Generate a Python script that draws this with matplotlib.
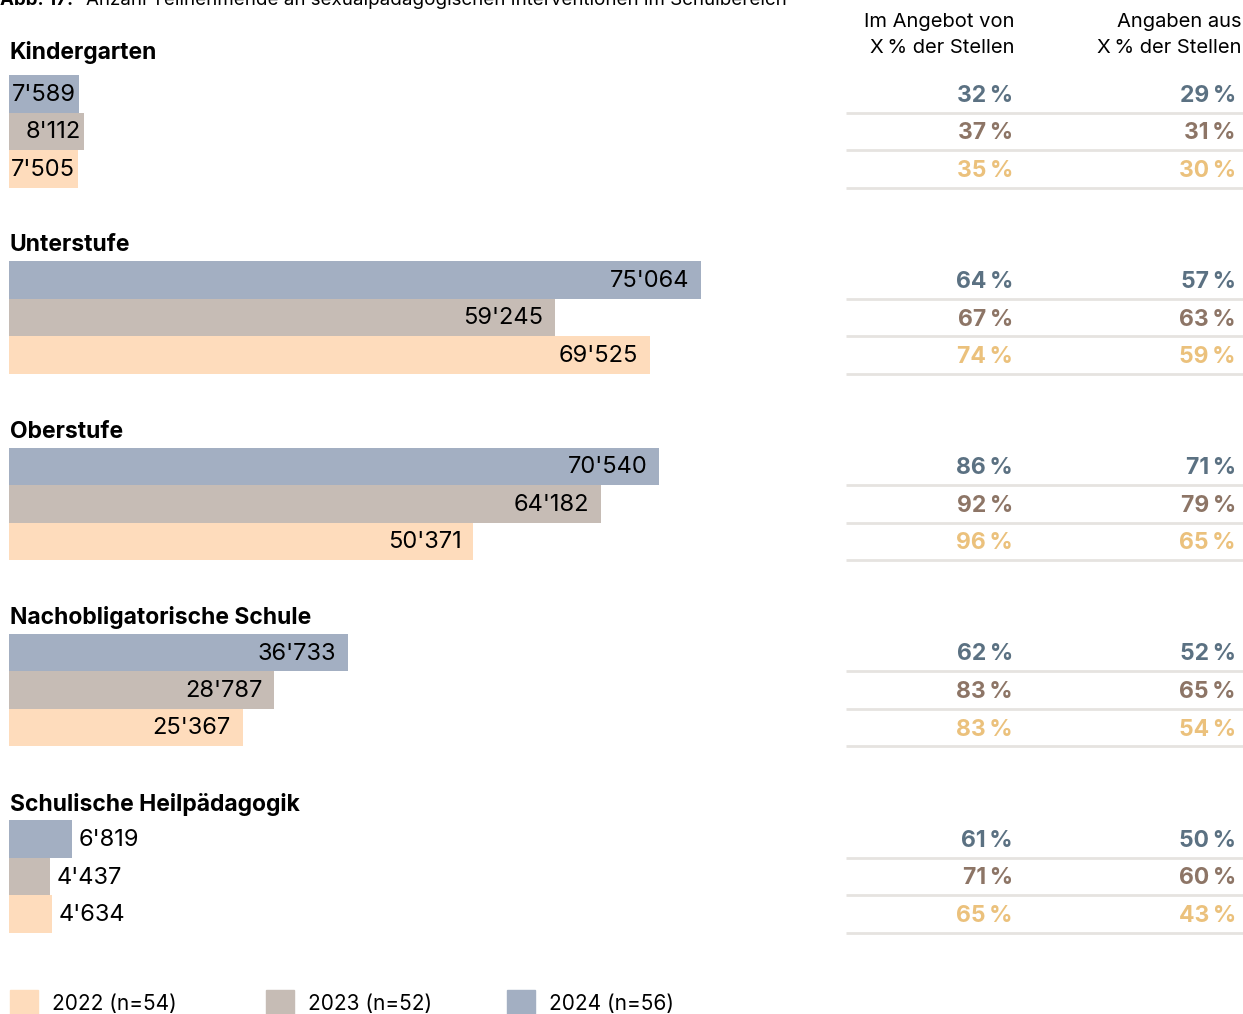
import matplotlib
matplotlib.use("Agg")
import matplotlib.pyplot as plt
from matplotlib.patches import Rectangle

# data, rows per group ordered 2024, 2023, 2022
groups = ["Kindergarten", "Unterstufe", "Oberstufe",
          "Nachobligatorische Schule", "Schulische Heilpädagogik"]
years = ["2024 (n=56)", "2023 (n=52)", "2022 (n=54)"]
participants = [
    [7589, 8112, 7505],
    [75064, 59245, 69525],
    [70540, 64182, 50371],
    [36733, 28787, 25367],
    [6819, 4437, 4634],
]
angebot = [
    [32, 37, 35],
    [64, 67, 74],
    [86, 92, 96],
    [62, 83, 83],
    [61, 71, 65],
]
angaben = [
    [29, 31, 30],
    [57, 63, 59],
    [71, 79, 65],
    [52, 65, 54],
    [50, 60, 43],
]

bar_colors = ["#a3afc2", "#c6bcb5", "#fedcbc"]
pct_colors = ["#5b7182", "#8d7566", "#ebc17c"]
line_color = "#e6e3e0"

plt.rcParams['font.family'] = ['Inter', 'DejaVu Sans']

W, H = 1243, 1014
fig = plt.figure(figsize=(W / 100, H / 100), dpi=100)

# overlay axes in pixel coordinates for text and table
ov = fig.add_axes([0, 0, 1, 1])
ov.set_xlim(0, W)
ov.set_ylim(H, 0)
ov.axis("off")

# bar axes: x starts at px 9, 75064 -> 692 px
bx0, bx1 = 9, 846
bar = fig.add_axes([bx0 / W, 0, (bx1 - bx0) / W, 1])
px_per_unit = 692 / 75064
bar.set_xlim(0, (bx1 - bx0) / px_per_unit)
bar.set_ylim(H, 0)
bar.axis("off")

top0, gstep, rh = 75, 186.25, 37.5

ov.text(0, 5, "Abb. 17: ", fontsize=13.5, fontweight="bold", va="baseline")
ov.text(86, 5, "Anzahl Teilnehmende an sexualpädagogischen Interventionen im Schulbereich",
        fontsize=13.5, va="baseline")

ov.text(1015, 22, "Im Angebot von", fontsize=14.5, ha="right", va="center")
ov.text(1015, 48, "X\u2009% der Stellen", fontsize=14.5, ha="right", va="center")
ov.text(1242, 22, "Angaben aus", fontsize=14.5, ha="right", va="center")
ov.text(1242, 48, "X\u2009% der Stellen", fontsize=14.5, ha="right", va="center")

for g, name in enumerate(groups):
    top = top0 + g * gstep
    hy = top - 22 if g == 0 else top - 16
    ov.text(10, hy, name, fontsize=16.5, fontweight="bold", va="center")
    for r in range(3):
        yc = top + rh * (r + 0.5)
        v = participants[g][r]
        bar.barh(yc, v, height=rh, color=bar_colors[r], left=0)
        lbl = f"{v:,}".replace(",", "'")
        wpx = v * px_per_unit
        if v > 7000:
            pad = 12 if wpx > 150 else 3
            bar.text(v - pad / px_per_unit, yc + 1, lbl, fontsize=17, ha="right", va="center")
        else:
            bar.text(v + 7 / px_per_unit, yc + 1.5, lbl, fontsize=17, ha="left", va="center")
        ov.text(1013, yc + 2, f"{angebot[g][r]}\u2009%", fontsize=16.5, fontweight="bold",
                color=pct_colors[r], ha="right", va="center")
        ov.text(1236, yc + 2, f"{angaben[g][r]}\u2009%", fontsize=16.5, fontweight="bold",
                color=pct_colors[r], ha="right", va="center")
        ov.plot([846, 1243], [top + rh * (r + 1)] * 2, color=line_color, lw=2,
                solid_capstyle="butt")

# legend
leg_x = [10, 266, 507]
for i, yr in enumerate(years[::-1]):
    c = bar_colors[::-1][i]
    ov.add_patch(Rectangle((leg_x[i], 990), 28, 28, color=c, clip_on=False))
    ov.text(leg_x[i] + 42, 1004, yr, fontsize=15, va="center")

fig.savefig("out.png", dpi=100)
